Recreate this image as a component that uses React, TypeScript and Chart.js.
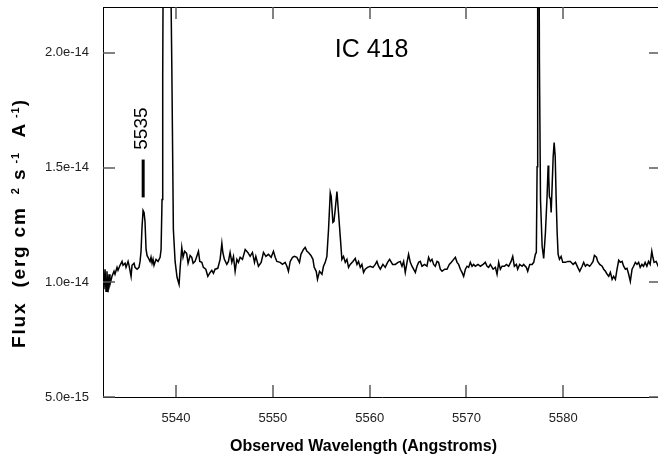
import React, { useEffect, useRef } from "react";
import { Chart, registerables } from "chart.js";

Chart.register(...registerables);

// Observed wavelength (Angstroms)
const wavelengths = [
  5532.45, 5532.55, 5532.66, 5532.76, 5532.86, 5532.97, 5533.07, 5533.17, 5533.38, 5533.59,
  5533.69, 5533.9, 5534.0, 5534.21, 5534.42, 5534.52, 5534.73, 5534.83, 5535.04, 5535.14,
  5535.35, 5535.45, 5535.66, 5535.76, 5535.97, 5536.17, 5536.28, 5536.38, 5536.48, 5536.59,
  5536.69, 5536.79, 5536.9, 5537.0, 5537.1, 5537.31, 5537.41, 5537.52, 5537.62, 5537.72,
  5537.93, 5538.14, 5538.35, 5538.45, 5538.55, 5538.62, 5538.69, 5539.02, 5539.38, 5539.56,
  5539.72, 5539.9, 5540.1, 5540.31, 5540.41, 5540.59, 5540.72, 5540.88, 5541.09, 5541.24,
  5541.45, 5541.62, 5541.76, 5541.96, 5542.17, 5542.31,
  5542.45, 5542.66, 5542.82, 5543.07, 5543.28, 5543.52, 5543.69, 5543.86, 5544.03, 5544.31,
  5544.55, 5544.73, 5544.83, 5544.99, 5545.24, 5545.41, 5545.58, 5545.76, 5545.93, 5546.1,
  5546.28, 5546.44, 5546.62, 5546.86, 5547.14, 5547.41, 5547.65, 5547.89, 5548.1, 5548.24,
  5548.51, 5548.79, 5549.03, 5549.28, 5549.54, 5549.82, 5550.06, 5550.24, 5550.41, 5550.75,
  5550.99, 5551.27, 5551.45, 5551.61, 5551.79, 5552.03, 5552.23,
  5552.48, 5552.75, 5552.9, 5553.16, 5553.34, 5553.52, 5553.68, 5553.93, 5554.14, 5554.27,
  5554.48, 5554.61, 5554.82, 5555.07, 5555.23, 5555.41, 5555.58, 5555.75, 5555.93, 5556.03,
  5556.2, 5556.31, 5556.44, 5556.62, 5556.78, 5556.96, 5557.13, 5557.3, 5557.48, 5557.65,
  5557.82, 5557.99, 5558.27, 5558.51, 5558.69, 5558.85, 5559.03, 5559.2, 5559.37, 5559.54,
  5559.78, 5560.06, 5560.34, 5560.58, 5560.75, 5560.92, 5561.1, 5561.37, 5561.61, 5561.85,
  5562.06,
  5562.37, 5562.65, 5562.93, 5563.16, 5563.34, 5563.51, 5563.68, 5563.86, 5564.02, 5564.2,
  5564.37, 5564.54, 5564.72, 5564.89, 5565.06, 5565.23, 5565.41, 5565.68, 5565.92, 5566.09,
  5566.27, 5566.44, 5566.61, 5566.78, 5566.96, 5567.12, 5567.3, 5567.48, 5567.75, 5567.99,
  5568.23, 5568.44, 5568.68, 5568.85, 5569.03, 5569.19, 5569.37, 5569.54, 5569.71, 5569.89,
  5570.06, 5570.23, 5570.4, 5570.58, 5570.74, 5570.92, 5571.2, 5571.44,
  5571.72, 5571.95, 5572.13, 5572.29, 5572.47, 5572.75, 5572.99, 5573.16, 5573.33, 5573.5,
  5573.68, 5573.92, 5574.13, 5574.36, 5574.61, 5574.78, 5574.95, 5575.16, 5575.29, 5575.5,
  5575.75, 5575.91, 5576.19, 5576.33, 5576.54, 5576.78, 5576.95, 5577.12, 5577.22, 5577.3,
  5577.36, 5577.42, 5577.49, 5577.54, 5577.65, 5577.82, 5577.98, 5578.16, 5578.33, 5578.44,
  5578.5, 5578.57, 5578.68, 5578.75, 5578.85, 5578.96, 5579.06, 5579.17, 5579.27, 5579.37,
  5579.47, 5579.61, 5579.78, 5579.95, 5580.23, 5580.47, 5580.74, 5581.02, 5581.26, 5581.5,
  5581.7, 5581.95, 5582.11, 5582.29, 5582.46, 5582.73, 5582.88, 5583.08, 5583.22, 5583.43,
  5583.56, 5583.77, 5584.02, 5584.18, 5584.36, 5584.54, 5584.7, 5584.87, 5585.05, 5585.21,
  5585.39, 5585.56, 5585.73, 5585.9, 5586.08, 5586.24, 5586.42, 5586.59, 5586.76, 5586.93,
  5587.11, 5587.27, 5587.45, 5587.62, 5587.79, 5587.95, 5588.13, 5588.29, 5588.46, 5588.64,
  5588.81, 5588.98, 5589.15, 5589.26, 5589.39, 5589.6, 5589.81, 5590.02,
];

// Flux in units of 1e-15 erg cm^-2 s^-1 A^-1
const fluxE15 = [
  10.35, 9.7, 10.57, 9.61, 10.48, 9.57, 10.35, 9.91, 10.26, 10.48,
  10.35, 10.65, 10.52, 10.74, 10.91, 10.74, 10.83, 10.65, 10.91, 10.74,
  10.26, 10.74, 10.83, 10.65, 10.57, 10.65, 10.91, 11.35, 12.39, 13.13,
  13.04, 12.65, 11.43, 11.17, 11.09, 10.91, 11.09, 10.83, 11.0, 10.74,
  11.0, 10.91, 11.09, 11.43, 13.61, 19.04, 26.0, 40.0, 26.0, 19.39,
  12.3, 10.91, 10.22, 9.91, 10.57, 11.52, 11.09, 11.35, 11.26, 10.83,
  11.17, 11.09, 10.83, 10.91, 11.17, 11.35,
  10.91, 10.87, 10.65, 10.57, 10.26, 10.43, 10.52, 10.39, 10.57, 10.61,
  11.0, 11.7, 11.3, 11.0, 10.78, 10.91, 11.3, 10.87, 11.13, 10.48,
  11.0, 10.87, 11.09, 11.0, 11.43, 11.3, 11.13, 11.3, 10.87, 11.13,
  10.7, 10.87, 11.3, 11.13, 11.22, 11.09, 11.35, 11.09, 10.91, 10.87,
  10.78, 10.87, 10.7, 10.48, 10.91, 11.09, 11.13,
  11.09, 10.87, 11.22, 11.43, 11.52, 11.35, 11.3, 11.17, 11.0, 10.65,
  10.48, 10.13, 10.48, 10.35, 10.7, 10.87, 11.13, 12.3, 13.91, 13.74,
  12.61, 12.65, 13.17, 13.96, 13.04, 12.0, 11.0, 11.13, 10.87, 11.0,
  10.65, 10.78, 10.91, 11.04, 10.78, 10.91, 10.65, 10.78, 10.43, 10.57,
  10.65, 10.7, 10.65, 10.78, 10.91, 10.7, 10.57, 10.78, 10.65, 10.87,
  11.0,
  10.78, 10.78, 10.87, 10.91, 10.7, 10.91, 10.43, 10.87, 11.22, 10.87,
  10.7, 10.57, 10.43, 10.7, 10.87, 10.91, 10.7, 10.78, 10.7, 11.09,
  10.91, 11.0, 10.78, 10.7, 10.91, 10.87, 10.57, 10.48, 10.57, 10.57,
  10.78, 10.87, 11.0, 11.09, 10.87, 10.78, 10.57, 10.43, 10.26, 10.57,
  10.7, 10.65, 10.87, 10.7, 10.78, 10.7, 10.78, 10.7,
  10.78, 10.87, 10.7, 10.65, 10.78, 10.57, 10.65, 10.35, 10.87, 10.57,
  10.7, 10.7, 10.78, 10.7, 10.91, 11.13, 10.7, 10.78, 10.57, 10.78,
  10.7, 10.78, 10.65, 10.48, 10.78, 10.78, 10.87, 11.22, 11.3, 15.04,
  26.0, 40.0, 26.0, 19.61, 13.61, 11.57, 11.04, 12.17, 13.74, 15.09,
  14.61, 13.74, 13.61, 13.04, 14.17, 15.48, 16.09, 15.48, 13.61, 12.17,
  11.22, 11.0, 11.13, 10.87, 10.87, 10.91, 10.91, 10.78, 10.87, 10.65,
  10.48, 10.7, 10.87, 10.7, 10.78, 10.7, 10.78, 10.91, 11.17, 11.09,
  10.91, 10.78, 10.7, 10.57, 10.48, 10.35, 10.26, 10.43, 10.13, 10.26,
  10.13, 10.57, 10.96, 10.87, 10.91, 10.7, 10.57, 10.61, 10.35, 10.04,
  10.57, 10.7, 10.87, 10.78, 10.87, 10.65, 10.78, 10.7, 10.87, 10.7,
  10.91, 10.78, 11.35, 11.09, 10.87, 10.91, 10.7, 10.83,
];

const xTicks = [5540, 5550, 5560, 5570, 5580];
const yTicks = [5e-15, 1e-14, 1.5e-14, 2e-14];
const yTickLabels = ["5.0e-15", "1.0e-14", "1.5e-14", "2.0e-14"];

const xMin = 5532.45;
const xMax = 5590.1;
const yMin = 5e-15;
const yMax = 2.2e-14;

const chartTitle = "IC 418";
const titleWave = 5560.2;
const titleFlux = 2.013e-14;

const markerLabel = "5535";
const markerWave = 5536.6;
const markerLowE15 = 13.7;
const markerHighE15 = 15.35;
const markerLabelE15 = 16.7;

const xTitle = "Observed Wavelength (Angstroms)";
const yTitleParts = [
  { t: "Flux", sup: false },
  { t: "  (erg cm", sup: false },
  { t: "   2", sup: true },
  { t: " s", sup: false },
  { t: " -1", sup: true },
  { t: "  A", sup: false },
  { t: " -1", sup: true },
  { t: ")", sup: false },
];

const FONT = "'Liberation Sans', Arial, Helvetica, sans-serif";

const overlayPlugin = {
  id: "overlay",
  afterDatasetsDraw(chart: any) {
    const { ctx, chartArea: a, scales } = chart;
    const xs = scales.x;
    const ys = scales.y;
    ctx.save();
    // top and right frame
    ctx.strokeStyle = "#000";
    ctx.lineWidth = 1;
    ctx.beginPath();
    ctx.moveTo(a.left, Math.round(a.top) + 0.5);
    ctx.lineTo(a.right, Math.round(a.top) + 0.5);
    ctx.moveTo(Math.round(a.right) - 0.5, a.top);
    ctx.lineTo(Math.round(a.right) - 0.5, a.bottom);
    ctx.stroke();

    // inward ticks
    const tl = 12;
    ctx.strokeStyle = "#5a5a5a";
    ctx.lineWidth = 1.5;
    ctx.beginPath();
    for (const v of xTicks) {
      const px = Math.round(xs.getPixelForValue(v));
      ctx.moveTo(px, a.bottom);
      ctx.lineTo(px, a.bottom - tl);
      ctx.moveTo(px, a.top);
      ctx.lineTo(px, a.top + tl);
    }
    for (const v of yTicks) {
      const py = Math.round(ys.getPixelForValue(v));
      ctx.moveTo(a.left, py);
      ctx.lineTo(a.left + tl, py);
      ctx.moveTo(a.right, py);
      ctx.lineTo(a.right - tl, py);
    }
    ctx.stroke();

    // chart title
    ctx.fillStyle = "#000";
    ctx.font = `25px ${FONT}`;
    ctx.textAlign = "center";
    ctx.textBaseline = "middle";
    ctx.fillText(chartTitle, xs.getPixelForValue(titleWave), ys.getPixelForValue(titleFlux));

    // line marker
    const mx = xs.getPixelForValue(markerWave);
    ctx.strokeStyle = "#000";
    ctx.lineWidth = 3;
    ctx.beginPath();
    ctx.moveTo(mx, ys.getPixelForValue(markerLowE15 * 1e-15));
    ctx.lineTo(mx, ys.getPixelForValue(markerHighE15 * 1e-15));
    ctx.stroke();
    ctx.save();
    ctx.translate(mx - 1, ys.getPixelForValue(markerLabelE15 * 1e-15));
    ctx.rotate(-Math.PI / 2);
    ctx.font = `19px ${FONT}`;
    ctx.textAlign = "center";
    ctx.textBaseline = "middle";
    ctx.fillText(markerLabel, 0, 0);
    ctx.restore();

    // x title
    ctx.font = `bold 16px ${FONT}`;
    ctx.textAlign = "center";
    ctx.textBaseline = "middle";
    ctx.fillText(xTitle, 363.5, 447);

    // y title (rotated, with superscripts)
    ctx.save();
    ctx.rotate(-Math.PI / 2);
    ctx.textAlign = "left";
    ctx.textBaseline = "alphabetic";
    let u = -348;
    for (const p of yTitleParts) {
      if (p.sup) {
        ctx.font = `bold 11px ${FONT}`;
        (ctx as any).letterSpacing = "1px";
        ctx.fillText(p.t, u, 19);
      } else {
        ctx.font = `bold 19px ${FONT}`;
        (ctx as any).letterSpacing = "1.8px";
        ctx.fillText(p.t, u, 25);
      }
      u += ctx.measureText(p.t).width;
    }
    ctx.restore();

    ctx.restore();
  },
};

export default function App() {
  const ref = useRef<HTMLCanvasElement | null>(null);

  useEffect(() => {
    if (!ref.current) return;
    const points = wavelengths.map((w, i) => ({ x: w, y: fluxE15[i] * 1e-15 }));
    const chart = new Chart(ref.current, {
      type: "line",
      data: {
        datasets: [
          {
            data: points,
            borderColor: "#000",
            borderWidth: 1.5,
            pointRadius: 0,
            tension: 0,
            fill: false,
          },
        ],
      },
      options: {
        animation: false,
        responsive: false,
        maintainAspectRatio: false,
        devicePixelRatio: 1,
        parsing: false,
        layout: { padding: { left: 0, top: 7, right: 19, bottom: 0 } },
        plugins: { legend: { display: false }, tooltip: { enabled: false } },
        scales: {
          x: {
            type: "linear",
            min: xMin,
            max: xMax,
            afterBuildTicks: (s: any) => {
              s.ticks = xTicks.map((v) => ({ value: v }));
            },
            afterFit: (s: any) => {
              s.height = 64;
              s.paddingLeft = 0;
              s.paddingRight = 0;
            },
            grid: { display: false, drawTicks: false },
            border: { display: true, color: "#000", width: 1 },
            ticks: {
              padding: 14,
              color: "#222",
              font: { family: FONT, size: 13 },
              maxRotation: 0,
              callback: (v: any) => String(v),
            },
          },
          y: {
            type: "linear",
            min: yMin,
            max: yMax,
            afterBuildTicks: (s: any) => {
              s.ticks = yTicks.map((v) => ({ value: v }));
            },
            afterFit: (s: any) => {
              s.width = 103;
              s.paddingTop = 0;
              s.paddingBottom = 0;
            },
            grid: { display: false, drawTicks: false },
            border: { display: true, color: "#000", width: 1 },
            ticks: {
              padding: 14,
              color: "#222",
              font: { family: FONT, size: 13 },
              callback: (v: any) => {
                const i = yTicks.findIndex((t) => Math.abs(t - v) < 1e-18);
                return i >= 0 ? yTickLabels[i] : "";
              },
            },
          },
        },
      },
      plugins: [overlayPlugin],
    });
    return () => chart.destroy();
  }, []);

  return (
    <div
      style={{
        position: "fixed",
        left: 0,
        top: 0,
        width: 658,
        height: 461,
        overflow: "hidden",
        background: "#fff",
      }}
    >
      <canvas ref={ref} width={680} height={461} style={{ width: 680, height: 461, display: "block" }} />
    </div>
  );
}
